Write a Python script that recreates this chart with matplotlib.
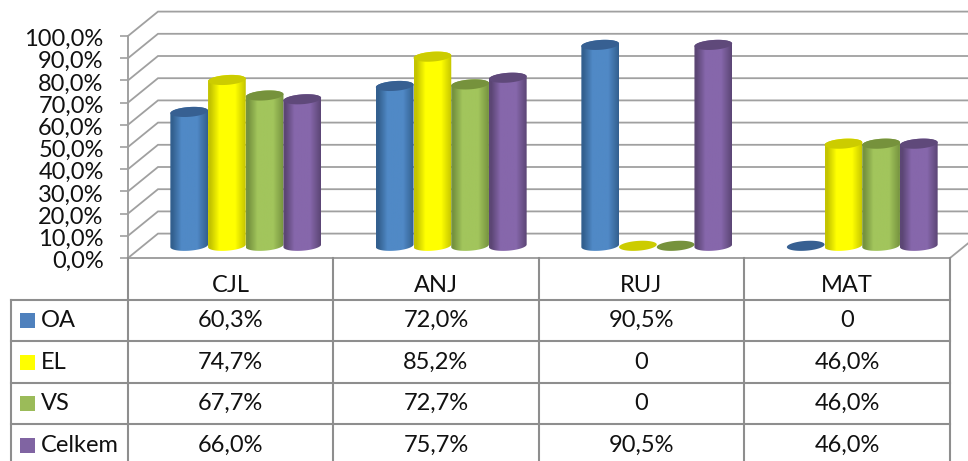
import numpy as np
import matplotlib
matplotlib.use('Agg')
import matplotlib.pyplot as plt
from matplotlib.colors import LinearSegmentedColormap
from matplotlib.patches import Polygon, Rectangle
from matplotlib.transforms import ScaledTranslation

categories = ['CJL', 'ANJ', 'RUJ', 'MAT']
series_names = ['OA', 'EL', 'VS', 'Celkem']
oa = [60.3, 72.0, 90.5, 0]
el = [74.7, 85.2, 0, 46.0]
vs = [67.7, 72.7, 0, 46.0]
celkem = [66.0, 75.7, 90.5, 46.0]
y_ticks = [0, 10, 20, 30, 40, 50, 60, 70, 80, 90, 100]

series = [oa, el, vs, celkem]
# face, edge of the cylinder, top ellipse
colors = [('#5089C6', '#33608F', '#376092'),
          ('#FFFF00', '#C4C400', '#CCCC00'),
          ('#A2C55C', '#76933F', '#76923C'),
          ('#8667AB', '#5C4675', '#5F497A')]
swatch = ['#4F81BD', '#FFFF00', '#9BBB59', '#8064A2']
grid_col = '#A0A0A0'
table_col = '#8E8E8E'

plt.rcParams['font.family'] = ['Lato', 'DejaVu Sans']

W, H = 968, 461
fig = plt.figure(figsize=(W / 100, H / 100), dpi=100)

# px layout of the chart front plane
x0, x1, y0, y100 = 128, 950, 258, 36
ax = fig.add_axes([x0 / W, (H - y0) / H, (x1 - x0) / W, (y0 - y100) / H])
ax.set_xlim(0, 4)
ax.set_ylim(0, 100)
ax.patch.set_visible(False)
for s in ax.spines.values():
    s.set_visible(False)

# fake 3d depth in data units
px_x = 4 / (x1 - x0)
px_y = 100 / (y0 - y100)
depth_x = 30 * px_x
depth_y = 24.4 * px_y

# walls and floor
for v in y_ticks:
    ax.plot([0, depth_x, 4.2], [v, v + depth_y, v + depth_y], color=grid_col, lw=1.3,
            clip_on=False, zorder=1, solid_joinstyle='miter')
ax.plot([0, 4], [0, 0], color=grid_col, lw=1.4, clip_on=False, zorder=1)
ax.plot([4, 4 + depth_x], [0, depth_y], color=grid_col, lw=1.3, clip_on=False, zorder=1)
ax.plot([0, 0], [0, 100], color=grid_col, lw=1.4, clip_on=False, zorder=1)

ax.set_xticks([])
ax.set_yticks(y_ticks)
labels = ax.set_yticklabels([f'{v:.1f}%'.replace('.', ',') for v in y_ticks], fontsize=17, color='#111111')
ax.tick_params(axis='y', length=5.5, width=1.2, color=grid_col, pad=12)
# labels sit a bit below their ticks in the original
shift = ScaledTranslation(0, -3.5 / 100, fig.dpi_scale_trans)
for t in labels:
    t.set_verticalalignment('center')
    t.set_transform(t.get_transform() + shift)

# cylinders
bar_w = 37.7 * px_x
a = bar_w / 2
b = 4.9 * px_y
k = 1.3 * px_y


def ell(cx, cy, t):
    return np.column_stack([cx + a * np.cos(t), cy + k * np.cos(t) + b * np.sin(t)])


for i in range(len(categories)):
    for j, vals in enumerate(series):
        v = vals[i]
        face, edge, top = colors[j]
        cx = i + 0.5 + (j - 1.5) * bar_w + depth_x / 2
        base = depth_y / 2
        z = 3 + j + i * 10
        if v > 0:
            low = ell(cx, base, np.linspace(np.pi, 2 * np.pi, 40))
            up = ell(cx, base + v, np.linspace(0, np.pi, 40))
            body = Polygon(np.vstack([low, up]), closed=True, facecolor='none', edgecolor='none',
                           transform=ax.transData)
            ax.add_patch(body)
            cmap = LinearSegmentedColormap.from_list('c', [(0, edge), (0.06, edge), (0.3, face),
                                                           (0.72, face), (1, edge)])
            grad = np.linspace(0, 1, 64).reshape(1, -1)
            im = ax.imshow(grad, cmap=cmap, extent=[cx - a, cx + a, 0, 100], aspect='auto', zorder=z)
            im.set_clip_path(body)
        ax.add_patch(Polygon(ell(cx, base + v, np.linspace(0, 2 * np.pi, 60)), closed=True,
                             facecolor=top, edgecolor='none', zorder=z + 0.5))
ax.set_xlim(0, 4)
ax.set_ylim(0, 100)

# data table, in px coordinates
tb = fig.add_axes([0, 0, 1, 1])
tb.set_xlim(0, W)
tb.set_ylim(H, 0)
tb.axis('off')
tb.patch.set_visible(False)

col_x = [128, 333, 539, 744, 950]
row_y = [300, 341, 383, 424, 466]
for x in col_x:
    tb.plot([x, x], [258, 466], color=table_col, lw=1.5, clip_on=False)
tb.plot([11, 11], [300, 466], color=table_col, lw=1.5, clip_on=False)
for y in row_y:
    tb.plot([11, 950], [y, y], color=table_col, lw=1.5, clip_on=False)

for i, name in enumerate(categories):
    tb.text((col_x[i] + col_x[i + 1]) / 2, 285, name, ha='center', va='center', fontsize=17, color='#111111')
for r, name in enumerate(series_names):
    yc = (row_y[r] + row_y[r + 1]) / 2
    tb.add_patch(Rectangle((20, yc - 7.5), 15, 15, facecolor=swatch[r], edgecolor='none'))
    tb.text(41, yc, name, ha='left', va='center', fontsize=17, color='#111111')
    for i, v in enumerate(series[r]):
        lab = '0' if v == 0 else f'{v:.1f}%'.replace('.', ',')
        tb.text((col_x[i] + col_x[i + 1]) / 2, yc, lab, ha='center', va='center', fontsize=17, color='#111111')

fig.savefig('out.png', dpi=100)
